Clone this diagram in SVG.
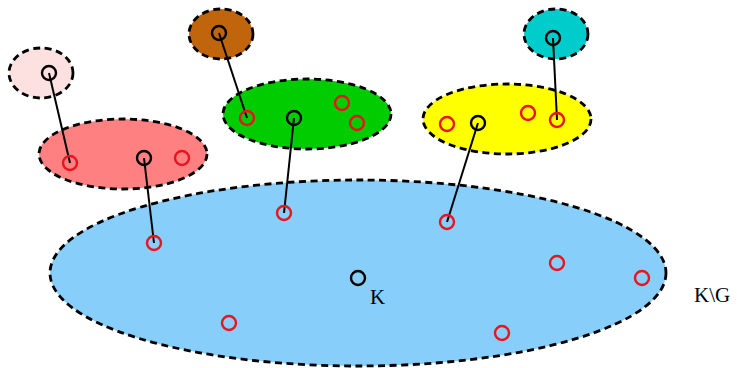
<svg xmlns="http://www.w3.org/2000/svg" width="737" height="368" viewBox="0 0 737 368">
  <style>
    .set { stroke: #000; stroke-width: 2.8; stroke-dasharray: 7 4.5; }
    .pt { fill: none; stroke-width: 2.4; }
    .red { stroke: #e8141e; }
    .blk { stroke: #000; }
    .link { stroke: #000; stroke-width: 2; fill: none; }
    .lbl { font-family: "Liberation Serif", "Times New Roman", serif; font-size: 21px; fill: #000; }
  </style>
  <rect width="737" height="368" fill="#fff"/>

  <!-- main set K\G -->
  <g id="set-main">
    <ellipse class="set" cx="358" cy="273" rx="308" ry="93" fill="#87cefa"/>
  </g>

  <g id="set-pink">
    <ellipse class="set" cx="41" cy="73" rx="32" ry="25" fill="#fde0e0"/>
  </g>
  <g id="set-salmon">
    <ellipse class="set" cx="123" cy="154" rx="84" ry="35" fill="#ff8080"/>
  </g>
  <g id="set-brown">
    <ellipse class="set" cx="221" cy="34" rx="32" ry="25" fill="#c0650c"/>
  </g>
  <g id="set-green">
    <ellipse class="set" cx="307" cy="114" rx="84" ry="35" fill="#00cc00"/>
  </g>
  <g id="set-yellow">
    <ellipse class="set" cx="507" cy="119" rx="84" ry="35" fill="#ffff00"/>
  </g>
  <g id="set-cyan">
    <ellipse class="set" cx="556" cy="34" rx="32" ry="25" fill="#00cccc"/>
  </g>

  <!-- connectors -->
  <g id="connectors">
    <line class="link" x1="49" y1="73" x2="70" y2="163"/>
    <line class="link" x1="219" y1="33" x2="247" y2="118"/>
    <line class="link" x1="144" y1="158" x2="154" y2="243"/>
    <line class="link" x1="294" y1="118" x2="284" y2="213"/>
    <line class="link" x1="478" y1="123" x2="447" y2="222"/>
    <line class="link" x1="553" y1="38" x2="557" y2="120"/>
  </g>

  <!-- points -->
  <g id="points">
    <circle class="pt blk" cx="49" cy="73" r="7" fill="#fde0e0"/>
    <circle class="pt red" cx="70" cy="163" r="7" fill="#ff8080"/>
    <circle class="pt blk" cx="144" cy="158" r="7" fill="#ff8080"/>
    <circle class="pt red" cx="182" cy="158" r="7"/>
    <circle class="pt blk" cx="219" cy="33" r="7" fill="#c0650c"/>
    <circle class="pt red" cx="247" cy="118" r="7" fill="#00cc00"/>
    <circle class="pt blk" cx="294" cy="118" r="7" fill="#00cc00"/>
    <circle class="pt red" cx="342" cy="103" r="7"/>
    <circle class="pt red" cx="357" cy="123" r="7"/>
    <circle class="pt red" cx="447" cy="124" r="7"/>
    <circle class="pt blk" cx="478" cy="123" r="7" fill="#ffff00"/>
    <circle class="pt red" cx="528" cy="113" r="7"/>
    <circle class="pt red" cx="557" cy="120" r="7" fill="#ffff00"/>
    <circle class="pt blk" cx="553" cy="38" r="7" fill="#00cccc"/>
    <circle class="pt red" cx="154" cy="243" r="7" fill="#87cefa"/>
    <circle class="pt red" cx="284" cy="213" r="7" fill="#87cefa"/>
    <circle class="pt red" cx="447" cy="222" r="7" fill="#87cefa"/>
    <circle class="pt blk" cx="358" cy="278" r="7"/>
    <circle class="pt red" cx="557" cy="263" r="7"/>
    <circle class="pt red" cx="642" cy="278" r="7"/>
    <circle class="pt red" cx="229" cy="323" r="7"/>
    <circle class="pt red" cx="502" cy="333" r="7"/>
  </g>

  <g id="labels">
    <text class="lbl" x="370" y="304">K</text>
    <text class="lbl" x="694" y="302">K\G</text>
  </g>
</svg>
